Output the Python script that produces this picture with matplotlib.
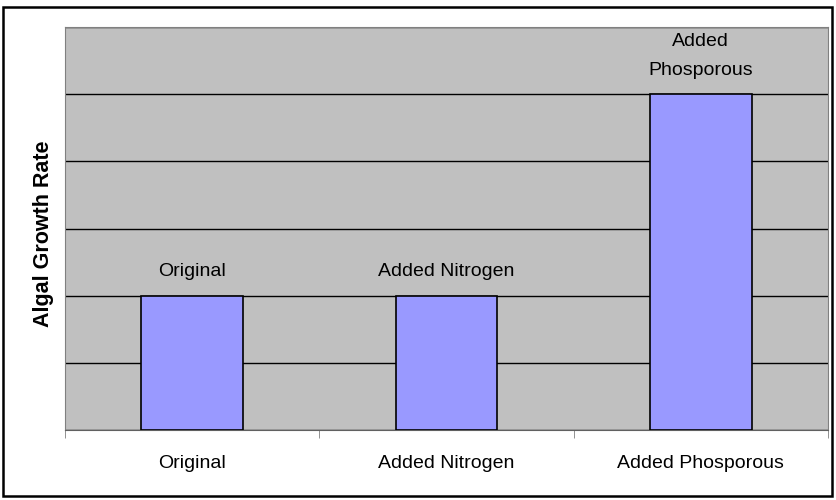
import matplotlib.pyplot as plt
from matplotlib.patches import Rectangle

plt.rcParams['font.family'] = ['Liberation Sans', 'DejaVu Sans']

categories = ['Original', 'Added Nitrogen', 'Added Phosporous']
bar_labels = ['Original', 'Added Nitrogen', 'Added\nPhosporous']
growth = [2, 2, 5]

fig = plt.figure(figsize=(8.36, 5.0), dpi=100)
ax = fig.add_axes([65 / 836, 1 - 430 / 500, (828 - 65) / 836, (430 - 27) / 500])

x = range(len(categories))
bars = ax.bar(x, growth, width=0.4, color='#9999FF', edgecolor='black', linewidth=1.2, zorder=3)

ax.set_facecolor('#C0C0C0')
ax.set_xlim(-0.5, len(categories) - 0.5)
ax.set_ylim(0, 6)
ax.set_yticks(range(0, 7))
ax.yaxis.grid(True, color='black', linewidth=1, zorder=1)
ax.tick_params(axis='y', left=False, labelleft=False)

# ticks between categories
ax.set_xticks([i - 0.5 for i in range(len(categories) + 1)], minor=True)
ax.set_xticks(list(x))
ax.set_xticklabels(categories, fontsize=14)
ax.tick_params(axis='x', which='major', length=0, pad=18)
ax.tick_params(axis='x', which='minor', length=6, color='#808080', direction='out')

for s in ['left', 'right', 'top']:
    ax.spines[s].set_color('#808080')
ax.spines['bottom'].set_color('#606060')

ax.set_ylabel('Algal Growth Rate', fontsize=15.5, fontweight='bold')
ax.yaxis.set_label_coords(-0.014, 0.486)

for rect, lab in zip(bars, bar_labels):
    ax.annotate(lab, (rect.get_x() + rect.get_width() / 2, rect.get_height()),
                xytext=(0, 11), textcoords='offset points', ha='center', va='bottom',
                fontsize=14, linespacing=1.95)

fig.patches.append(Rectangle((3 / 836, 1 - 496 / 500), 829 / 836, 489 / 500,
                             transform=fig.transFigure, fill=False,
                             edgecolor='black', linewidth=1.8))

fig.savefig('out.png', dpi=100)
